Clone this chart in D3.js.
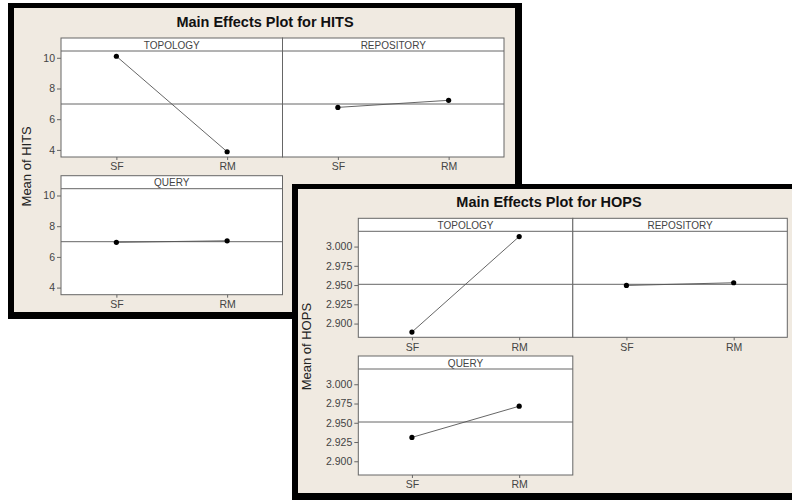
<!DOCTYPE html>
<html>
<head>
<meta charset="utf-8">
<script src="https://cdn.jsdelivr.net/npm/d3@7"></script>
<style>
  html, body { margin: 0; padding: 0; background: #ffffff; }
  svg { display: block; }
  text { font-family: "Liberation Sans", Arial, sans-serif; }
</style>
</head>
<body>
<svg id="chart" width="792" height="500"></svg>
<script>
// Factors and their two levels
const factors = ["TOPOLOGY", "REPOSITORY", "QUERY"];
const levels = ["SF", "RM"];

// Level means for each factor (SF, RM)
const hitsMeans = [[10.1, 3.88], [6.77, 7.23], [6.95, 7.05]];
const hopsMeans = [[2.889, 3.013], [2.9495, 2.953], [2.931, 2.9715]];

// Axis tick values
const hitsTicks = [4, 6, 8, 10];
const hopsTicks = [2.900, 2.925, 2.950, 2.975, 3.000];

const svg = d3.select("#chart");

// One main-effects window: framed box with a 2x2 grid of factor panels
function drawWindow(cfg) {
  const g = svg.append("g").attr("transform", `translate(${cfg.x},${cfg.y})`);

  // frame and beige backdrop
  g.append("rect").attr("x", 0).attr("y", 0)
    .attr("width", cfg.w).attr("height", cfg.h).attr("fill", "#000");
  g.append("rect").attr("x", 6).attr("y", 5)
    .attr("width", cfg.w - 13).attr("height", cfg.h - 12).attr("fill", "#f0eae1");

  g.append("text")
    .attr("x", cfg.w / 2).attr("y", cfg.titleY)
    .attr("text-anchor", "middle")
    .attr("font-size", 14.5).attr("font-weight", "bold").attr("fill", "#111")
    .text(cfg.title);

  const stripH = 13, plotH = 106, rowGap = 137.7;
  const grand = d3.mean(cfg.means[0]);
  const lo = d3.min(cfg.means.flat()), hi = d3.max(cfg.means.flat());
  const pad = (hi - lo) * 0.055;
  const y = d3.scaleLinear().domain([lo - pad, hi + pad]).range([plotH, 0]);
  const x = d3.scalePoint().domain(levels).range([0, cfg.panelW]).padding(0.5);

  factors.forEach((f, i) => {
    const col = i % 2, row = Math.floor(i / 2);
    const px = cfg.panelX + col * cfg.panelW;
    const py = cfg.panelY + row * rowGap;
    const p = g.append("g").attr("transform", `translate(${px},${py})`);

    p.append("rect").attr("width", cfg.panelW).attr("height", stripH + plotH)
      .attr("fill", "#fff");

    p.append("text")
      .attr("x", cfg.panelW / 2).attr("y", stripH - 2.5)
      .attr("text-anchor", "middle").attr("font-size", 10).attr("fill", "#444")
      .text(f);

    const plot = p.append("g").attr("transform", `translate(0,${stripH})`);

    // grand-mean reference line
    plot.append("line")
      .attr("x1", 0).attr("x2", cfg.panelW)
      .attr("y1", y(grand)).attr("y2", y(grand))
      .attr("stroke", "#666").attr("stroke-width", 1);

    const pts = levels.map((l, k) => [x(l), y(cfg.means[i][k])]);
    plot.append("path")
      .attr("d", d3.line()(pts))
      .attr("fill", "none").attr("stroke", "#555").attr("stroke-width", 0.9);
    plot.selectAll("circle").data(pts).join("circle")
      .attr("cx", d => d[0]).attr("cy", d => d[1]).attr("r", 2.6).attr("fill", "#000");

    // x axis
    const xa = plot.append("g").attr("transform", `translate(0,${plotH})`)
      .call(d3.axisBottom(x).tickSize(3).tickPadding(3));
    xa.select(".domain").remove();
    xa.selectAll("line").attr("stroke", "#666");
    xa.selectAll("text").attr("font-size", 10.5).attr("fill", "#444")
      .attr("font-family", "Liberation Sans, Arial, sans-serif");

    // y axis on the left column only
    if (col === 0) {
      const ya = plot.append("g")
        .call(d3.axisLeft(y).tickValues(cfg.ticks).tickFormat(cfg.fmt)
          .tickSize(4).tickPadding(2));
      ya.select(".domain").remove();
      ya.selectAll("line").attr("stroke", "#666");
      ya.selectAll("text").attr("font-size", 10.5).attr("fill", "#444")
        .attr("font-family", "Liberation Sans, Arial, sans-serif");
    }

    // panel borders
    p.append("rect").attr("width", cfg.panelW).attr("height", stripH + plotH)
      .attr("fill", "none").attr("stroke", "#666").attr("stroke-width", 1);
    p.append("line").attr("x1", 0).attr("x2", cfg.panelW)
      .attr("y1", stripH).attr("y2", stripH)
      .attr("stroke", "#666").attr("stroke-width", 1);
  });

  // y-axis title, centred on the panel grid
  const midY = cfg.panelY + (rowGap + stripH + plotH) / 2;
  g.append("text")
    .attr("transform", `translate(${cfg.labelX},${midY}) rotate(-90)`)
    .attr("text-anchor", "middle").attr("dominant-baseline", "middle")
    .attr("font-size", 13).attr("fill", "#222")
    .text(cfg.yLabel);
}

drawWindow({
  x: 8, y: 3, w: 514, h: 316,
  title: "Main Effects Plot for HITS", titleY: 24,
  panelX: 53, panelY: 35, panelW: 221.5,
  labelX: 20,
  means: hitsMeans, ticks: hitsTicks, fmt: d3.format("d"),
  yLabel: "Mean of HITS"
});

drawWindow({
  x: 292, y: 184, w: 514, h: 316,
  title: "Main Effects Plot for HOPS", titleY: 23,
  panelX: 66.3, panelY: 34.3, panelW: 214.5,
  labelX: 16,
  means: hopsMeans, ticks: hopsTicks, fmt: d3.format(".3f"),
  yLabel: "Mean of HOPS"
});
</script>
</body>
</html>
